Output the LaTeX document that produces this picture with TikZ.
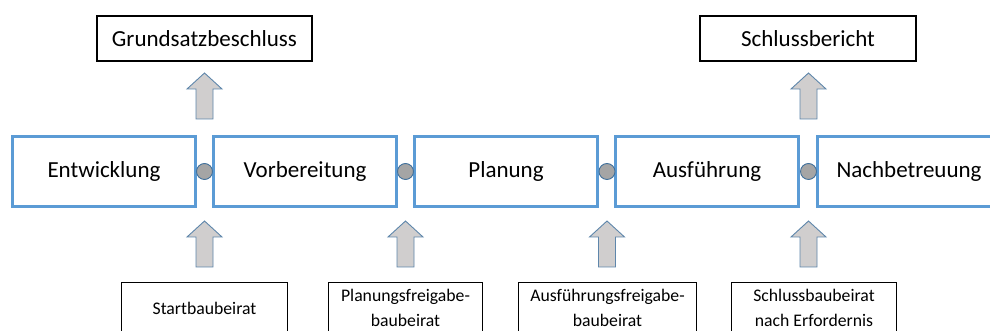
\documentclass[tikz,border=0pt]{standalone}
\usepackage{fontspec}
\setmainfont{Carlito}

\definecolor{phaseblue}{HTML}{5B9BD5}
\definecolor{jointgray}{HTML}{A5A5A5}
\definecolor{jointedge}{HTML}{41719C}
\definecolor{arrowgray}{HTML}{D0CECE}

\tikzset{
  phase/.style={draw=phaseblue, line width=3pt, minimum width=183pt,
    minimum height=70pt, inner sep=0pt, font=\fontsize{23}{27}\selectfont},
  result/.style={draw=black, line width=1.8pt, minimum height=45pt,
    inner sep=0pt, font=\fontsize{23}{27}\selectfont},
  board/.style={draw=black, line width=1.2pt, minimum height=51pt,
    inner sep=0pt, anchor=north, align=center,
    font=\fontsize{17.7}{24.5}\selectfont},
  joint/.style={circle, fill=jointgray, draw=jointedge, line width=0.9pt,
    minimum size=16pt, inner sep=0pt},
  uparrow/.pic={
    \draw[fill=arrowgray, draw=jointedge!85, line width=0.9pt]
      (-8.5,0) -- (-8.5,30) -- (-17.5,30) -- (0,46) --
      (17.5,30) -- (8.5,30) -- (8.5,0) -- cycle;
  }
}

\begin{document}
\begin{tikzpicture}[x=1pt, y=1pt]
      \clip (0,0) rectangle (990,331);
      \fill[white] (0,0) rectangle (990,331);

      % phases
      \node[phase] (entw) at (104,159.5) {Entwicklung};
      \node[phase] (vorb) at (305,159.5) {Vorbereitung};
      \node[phase] (plan) at (506,159.5) {Planung};
      \node[phase] (ausf) at (707,159.5) {Ausführung};
      \node[phase] (nach) at (909,159.5) {Nachbetreuung};

      % milestones between phases
      \node[joint] (j1) at (204.5,159.5) {};
      \node[joint] (j2) at (405.5,159.5) {};
      \node[joint] (j3) at (607,159.5) {};
      \node[joint] (j4) at (808.5,159.5) {};

      % results
      \node[result, minimum width=215pt] (grund) at (204.5,292.5) {Grundsatzbeschluss};
      \node[result, minimum width=216pt] (schlussb) at (808,292.5) {Schlussbericht};

      % advisory boards
      \node[board, minimum width=166pt] (start) at (204.5,49) {Startbaubeirat};
      \node[board, minimum width=154pt] (planfrei) at (405.5,49) {Planungsfreigabe-\\baubeirat};
      \node[board, minimum width=178pt] (ausffrei) at (607.5,49) {Ausführungsfreigabe-\\baubeirat};
      \node[board, minimum width=165pt] (schlussbau) at (814,49) {Schlussbaubeirat\\nach Erfordernis};

      % block arrows
      \pic at ([yshift=52.5pt]j1.center) {uparrow};
      \pic at ([yshift=52.5pt]j4.center) {uparrow};
      \pic at ([yshift=-95.5pt]j1.center) {uparrow};
      \pic at ([yshift=-95.5pt]j2.center) {uparrow};
      \pic at ([yshift=-95.5pt]j3.center) {uparrow};
      \pic at ([yshift=-95.5pt]j4.center) {uparrow};

    \end{tikzpicture}
\end{document}
